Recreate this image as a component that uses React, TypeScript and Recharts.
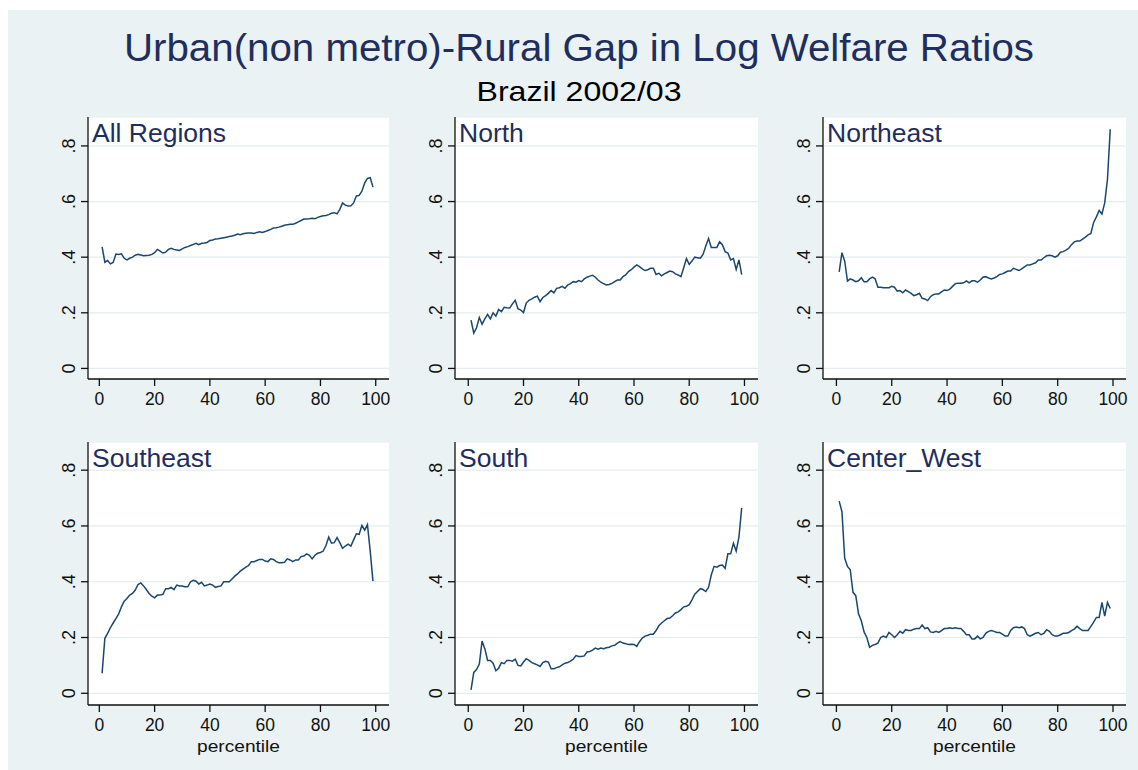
import React from "react";
import { LineChart, Line, XAxis, YAxis, CartesianGrid } from "recharts";

// Percentile positions (x values, shared by every region)
const PERCENTILES = [
  1, 2, 3, 4, 5, 6, 7, 8, 9, 10, 11, 12, 13, 14, 15, 16, 17, 18, 19, 20,
  21, 22, 23, 24, 25, 26, 27, 28, 29, 30, 31, 32, 33, 34, 35, 36, 37, 38, 39, 40,
  41, 42, 43, 44, 45, 46, 47, 48, 49, 50, 51, 52, 53, 54, 55, 56, 57, 58, 59, 60,
  61, 62, 63, 64, 65, 66, 67, 68, 69, 70, 71, 72, 73, 74, 75, 76, 77, 78, 79, 80,
  81, 82, 83, 84, 85, 86, 87, 88, 89, 90, 91, 92, 93, 94, 95, 96, 97, 98, 99,
];

// Urban (non metro) - rural gap in log welfare ratios, by percentile
const ALL_REGIONS = [
  0.437, 0.382, 0.388, 0.376, 0.381, 0.411, 0.41, 0.412, 0.396, 0.39,
  0.396, 0.4, 0.407, 0.41, 0.408, 0.405, 0.406, 0.407, 0.41, 0.416,
  0.428, 0.422, 0.415, 0.418, 0.428, 0.432, 0.428, 0.426, 0.424, 0.43,
  0.435, 0.438, 0.442, 0.446, 0.45, 0.445, 0.45, 0.451, 0.453, 0.46,
  0.462, 0.465, 0.466, 0.468, 0.47, 0.472, 0.474, 0.476, 0.479, 0.483,
  0.481, 0.484, 0.486, 0.487, 0.487, 0.485, 0.489, 0.491, 0.489, 0.492,
  0.496, 0.5, 0.505, 0.506, 0.508, 0.511, 0.515, 0.517, 0.518, 0.518,
  0.522, 0.527, 0.532, 0.537, 0.537, 0.538, 0.54, 0.538, 0.543, 0.546,
  0.549, 0.55, 0.553, 0.558, 0.56, 0.556, 0.572, 0.595, 0.587, 0.584,
  0.585, 0.595, 0.62, 0.622, 0.637, 0.667, 0.683, 0.686, 0.652,
];

const NORTH = [
  0.174, 0.127, 0.146, 0.183, 0.159, 0.178, 0.194, 0.178, 0.2, 0.188,
  0.212, 0.204, 0.22, 0.218, 0.217, 0.232, 0.245, 0.215, 0.21, 0.201,
  0.235, 0.245, 0.25, 0.256, 0.26, 0.24, 0.255, 0.262, 0.27, 0.28,
  0.272, 0.288, 0.29, 0.295, 0.288, 0.3, 0.305, 0.312, 0.31, 0.316,
  0.312, 0.322, 0.328, 0.332, 0.335, 0.328, 0.318, 0.31, 0.305, 0.3,
  0.302, 0.306, 0.312, 0.318, 0.318, 0.33, 0.336, 0.348, 0.355, 0.364,
  0.372, 0.366, 0.358, 0.352, 0.355, 0.36, 0.36, 0.338, 0.342, 0.333,
  0.34, 0.345, 0.35, 0.348, 0.34, 0.336, 0.33, 0.362, 0.395, 0.374,
  0.386, 0.4, 0.398, 0.396, 0.41, 0.44, 0.467, 0.435, 0.435, 0.435,
  0.455, 0.445, 0.42, 0.415, 0.39, 0.395, 0.356, 0.39, 0.337,
];

const NORTHEAST = [
  0.347, 0.416, 0.386, 0.314, 0.322, 0.318, 0.312, 0.315, 0.326, 0.312,
  0.312, 0.322, 0.328, 0.322, 0.292, 0.292, 0.29, 0.29, 0.29, 0.295,
  0.292, 0.278, 0.28, 0.272, 0.282, 0.276, 0.27, 0.262, 0.265, 0.27,
  0.252, 0.25, 0.244, 0.258, 0.265, 0.268, 0.268, 0.275, 0.282, 0.28,
  0.285, 0.295, 0.305, 0.306, 0.306, 0.308, 0.315, 0.308, 0.315, 0.315,
  0.31, 0.318, 0.328, 0.33, 0.325, 0.322, 0.325, 0.33, 0.338, 0.34,
  0.345, 0.35, 0.35, 0.36, 0.356, 0.352, 0.358, 0.365, 0.372, 0.372,
  0.376, 0.38, 0.39, 0.39, 0.398, 0.405, 0.407, 0.405, 0.4, 0.405,
  0.418, 0.42, 0.425, 0.432, 0.445, 0.455, 0.458, 0.458, 0.465, 0.472,
  0.48, 0.485, 0.525, 0.545, 0.568, 0.555, 0.595, 0.68, 0.86,
];

const SOUTHEAST = [
  0.072, 0.197, 0.215, 0.235, 0.252, 0.268, 0.285, 0.31, 0.33, 0.34,
  0.352, 0.358, 0.37, 0.39, 0.396, 0.385, 0.372, 0.358, 0.348, 0.342,
  0.352, 0.352, 0.355, 0.375, 0.375, 0.38, 0.372, 0.388, 0.385, 0.385,
  0.382, 0.382, 0.4, 0.405, 0.402, 0.392, 0.398, 0.385, 0.388, 0.392,
  0.388, 0.38, 0.383, 0.385, 0.4, 0.4, 0.4, 0.41, 0.42, 0.428,
  0.438, 0.445, 0.452, 0.458, 0.472, 0.472, 0.476, 0.48, 0.48, 0.474,
  0.472, 0.482, 0.48, 0.472, 0.468, 0.468, 0.47, 0.482, 0.478, 0.472,
  0.478, 0.478, 0.49, 0.492, 0.5, 0.495, 0.482, 0.495, 0.502, 0.505,
  0.51, 0.53, 0.56, 0.538, 0.54, 0.558, 0.54, 0.52, 0.528, 0.535,
  0.528, 0.55, 0.572, 0.57, 0.602, 0.585, 0.605, 0.51, 0.402,
];

const SOUTH = [
  0.012, 0.075, 0.085, 0.105, 0.187, 0.16, 0.118, 0.118, 0.108, 0.081,
  0.09, 0.11, 0.106, 0.118, 0.118, 0.115, 0.122, 0.1, 0.098, 0.112,
  0.124, 0.118, 0.11, 0.106, 0.102, 0.096, 0.11, 0.115, 0.112, 0.088,
  0.088, 0.092, 0.095, 0.102, 0.108, 0.11, 0.115, 0.122, 0.135, 0.132,
  0.132, 0.134, 0.148, 0.15, 0.155, 0.162, 0.158, 0.162, 0.16, 0.163,
  0.165, 0.17, 0.172, 0.18, 0.185, 0.18, 0.178, 0.175, 0.176, 0.175,
  0.168, 0.185, 0.198, 0.205, 0.208, 0.212, 0.212, 0.225, 0.242, 0.252,
  0.26, 0.268, 0.27, 0.278, 0.288, 0.292, 0.3, 0.31, 0.312, 0.318,
  0.335, 0.355, 0.365, 0.375, 0.372, 0.365, 0.38, 0.425, 0.455, 0.452,
  0.458, 0.46, 0.448, 0.5, 0.5, 0.538, 0.51, 0.56, 0.665,
];

const CENTER_WEST = [
  0.689, 0.651, 0.484, 0.455, 0.443, 0.362, 0.35, 0.285, 0.26, 0.22,
  0.2, 0.165, 0.172, 0.175, 0.18, 0.2, 0.205, 0.2, 0.218, 0.21,
  0.2, 0.21, 0.222, 0.215, 0.228, 0.225, 0.225, 0.23, 0.232, 0.232,
  0.245, 0.232, 0.235, 0.22, 0.218, 0.222, 0.218, 0.225, 0.232, 0.232,
  0.235, 0.232, 0.235, 0.232, 0.232, 0.222, 0.21, 0.21, 0.195, 0.195,
  0.205, 0.195, 0.2, 0.215, 0.222, 0.225, 0.222, 0.218, 0.218, 0.212,
  0.205, 0.205, 0.225, 0.235, 0.238, 0.235, 0.238, 0.232, 0.21, 0.205,
  0.21, 0.215, 0.218, 0.21, 0.215, 0.228, 0.222, 0.21, 0.205, 0.205,
  0.21, 0.215, 0.215, 0.218, 0.225, 0.23, 0.24, 0.232, 0.225, 0.225,
  0.225, 0.24, 0.255, 0.272, 0.272, 0.326, 0.277, 0.326, 0.304,
];

const REGION_NAMES = ["All Regions", "North", "Northeast", "Southeast", "South", "Center_West"];
const REGION_SERIES = [ALL_REGIONS, NORTH, NORTHEAST, SOUTHEAST, SOUTH, CENTER_WEST];

const X_TICKS = [0, 20, 40, 60, 80, 100];
const Y_TICKS = [0, 0.2, 0.4, 0.6, 0.8];
const Y_TICK_LABELS = ["0", ".2", ".4", ".6", ".8"];

const TITLE = "Urban(non metro)-Rural Gap in Log Welfare Ratios";
const SUBTITLE = "Brazil 2002/03";
const X_LABEL = "percentile";

// Layout of the 3x2 grid of plot regions (page pixels)
const COLS = [
  { x: 88, w: 301, dom: [-4.1, 104.8] },
  { x: 455, w: 303, dom: [-4.8, 104.9] },
  { x: 823, w: 303, dom: [-4.85, 104.7] },
];
const ROWS = [
  { y: 117, h: 262, dom: [-0.038, 0.904] },
  { y: 442, h: 263, dom: [-0.042, 0.901] },
];

const FONT = "'Liberation Sans', Arial, Helvetica, sans-serif";
const NAVY = "#1a476f";
const TEXT_NAVY = "#1f2e5c";
const BG = "#eaf2f3";
const GRID = "#e3ecee";
const Y_AXIS_W = 60;
const X_AXIS_H = 36;
const RIGHT_PAD = 12;

const YTick = (props: any) => {
  const { x, y, payload } = props;
  const idx = Y_TICKS.findIndex((t) => Math.abs(t - payload.value) < 1e-6);
  const label = idx >= 0 ? Y_TICK_LABELS[idx] : String(payload.value);
  return (
    <text
      x={x}
      y={y}
      transform={`rotate(-90 ${x} ${y})`}
      textAnchor="middle"
      fontFamily={FONT}
      fontSize={18}
      fill="#111"
    >
      {label}
    </text>
  );
};

const XTick = (props: any) => {
  const { x, y, payload } = props;
  return (
    <text x={x} y={y + 16} textAnchor="middle" fontFamily={FONT} fontSize={17.5} fill="#111">
      {payload.value}
    </text>
  );
};

function Panel({ idx }: { idx: number }) {
  const col = COLS[idx % 3];
  const row = ROWS[Math.floor(idx / 3)];
  const values = REGION_SERIES[idx];
  const data = PERCENTILES.map((p, i) => ({ p, v: values[i] }));
  const w = col.w + Y_AXIS_W + RIGHT_PAD;
  const h = row.h + X_AXIS_H;
  return (
    <div style={{ position: "absolute", left: col.x - Y_AXIS_W, top: row.y, width: w, height: h }}>
      <LineChart
        width={w}
        height={h}
        data={data}
        margin={{ top: 0, right: RIGHT_PAD, bottom: 0, left: 0 }}
      >
        <CartesianGrid
          vertical={false}
          horizontal={true}
          stroke={GRID}
          strokeWidth={1.2}
          fill="#ffffff"
          fillOpacity={1}
        />
        <XAxis
          type="number"
          dataKey="p"
          domain={col.dom}
          ticks={X_TICKS}
          allowDataOverflow
          height={X_AXIS_H}
          axisLine={{ stroke: "#111", strokeWidth: 1.3 }}
          tickLine={{ stroke: "#111", strokeWidth: 1.3 }}
          tickSize={7}
          tickMargin={3}
          tick={<XTick />}
          interval={0}
        />
        <YAxis
          type="number"
          domain={row.dom}
          ticks={Y_TICKS}
          allowDataOverflow
          width={Y_AXIS_W}
          axisLine={{ stroke: "#111", strokeWidth: 1.3 }}
          tickLine={{ stroke: "#111", strokeWidth: 1.3 }}
          tickSize={7}
          tickMargin={6}
          tick={<YTick />}
          interval={0}
        />
        <Line
          type="linear"
          dataKey="v"
          stroke={NAVY}
          strokeWidth={1.5}
          dot={false}
          activeDot={false}
          isAnimationActive={false}
        />
      </LineChart>
    </div>
  );
}

export default function App() {
  return (
    <div
      style={{
        position: "absolute",
        left: 0,
        top: 0,
        width: 1138,
        height: 770,
        background: "#ffffff",
        overflow: "hidden",
      }}
    >
      <div style={{ position: "absolute", left: 8, top: 10, width: 1130, height: 760, background: BG }} />
      {REGION_NAMES.map((_, i) => (
        <Panel key={i} idx={i} />
      ))}
      <svg
        width={1138}
        height={770}
        style={{ position: "absolute", left: 0, top: 0, pointerEvents: "none" }}
      >
        <text
          x={579}
          y={61}
          textAnchor="middle"
          fontFamily={FONT}
          fontSize={38}
          fill={TEXT_NAVY}
          textLength={910}
          lengthAdjust="spacingAndGlyphs"
        >
          {TITLE}
        </text>
        <text
          x={579}
          y={101}
          textAnchor="middle"
          fontFamily={FONT}
          fontSize={28}
          fill="#000"
          textLength={205}
          lengthAdjust="spacingAndGlyphs"
        >
          {SUBTITLE}
        </text>
        {REGION_NAMES.map((name, i) => {
          const col = COLS[i % 3];
          const row = ROWS[Math.floor(i / 3)];
          return (
            <text
              key={name}
              x={col.x + 4}
              y={row.y + 25}
              fontFamily={FONT}
              fontSize={26.5}
              fill={TEXT_NAVY}
            >
              {name}
            </text>
          );
        })}
        {COLS.map((col, i) => (
          <text
            key={i}
            x={col.x + col.w / 2}
            y={752}
            textAnchor="middle"
            fontFamily={FONT}
            fontSize={17}
            fill="#111"
            textLength={83}
            lengthAdjust="spacingAndGlyphs"
          >
            {X_LABEL}
          </text>
        ))}
      </svg>
    </div>
  );
}
